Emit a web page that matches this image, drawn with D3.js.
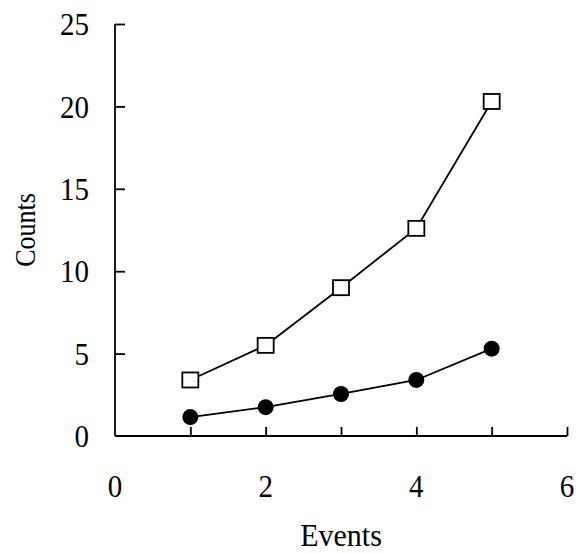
<!DOCTYPE html>
<html>
<head>
<meta charset="utf-8">
<script src="https://cdn.jsdelivr.net/npm/d3@7"></script>
<style>
  body { margin: 0; background: #fff; }
  text { font-family: "Liberation Serif", "Times New Roman", serif; fill: #000; }
</style>
</head>
<body>
<script>
// data
var events = [1, 2, 3, 4, 5];
var openSquares = [3.4, 5.5, 9.0, 12.6, 20.3];
var filledCircles = [1.15, 1.75, 2.55, 3.4, 5.3];
var xTicks = [0, 2, 4, 6];
var yTicks = [0, 5, 10, 15, 20, 25];

var margin = {top: 24, right: 11, bottom: 118, left: 115},
    width = 578 - margin.left - margin.right,
    height = 554 - margin.top - margin.bottom;

var x = d3.scaleLinear().domain([0, 6]).range([0, width]);
var y = d3.scaleLinear().domain([0, 25]).range([height, 0]);

var svg = d3.select("body").append("svg")
    .attr("width", 578)
    .attr("height", 554)
  .append("g")
    .attr("transform", "translate(" + margin.left + "," + margin.top + ")");

// x axis: ticks point up, labels only on even values
var xAxis = svg.append("g")
    .attr("transform", "translate(0," + height + ")")
    .call(d3.axisBottom(x).tickValues([1, 2, 3, 4, 5, 6]).tickSize(-9).tickFormat(""));
xAxis.select(".domain").attr("d", "M0,0H" + width).attr("stroke-width", 1.8);
xAxis.selectAll(".tick line").attr("stroke-width", 1.8);

// the source text looks a bit stretched vertically
svg.append("g").selectAll("text")
    .data(xTicks)
  .enter().append("text")
    .attr("transform", function(d) { return "translate(" + x(d) + "," + (height + 61) + ") scale(1,1.1)"; })
    .attr("text-anchor", "middle")
    .style("font-size", "29px")
    .text(function(d) { return d; });

// y axis: ticks point right
var yAxis = svg.append("g")
    .call(d3.axisLeft(y).tickValues(yTicks.slice(1)).tickSize(-10).tickFormat(""));
yAxis.select(".domain").attr("d", "M0," + height + "V0").attr("stroke-width", 1.8);
yAxis.selectAll(".tick line").attr("stroke-width", 1.8);

svg.append("g").selectAll("text")
    .data(yTicks)
  .enter().append("text")
    .attr("transform", function(d) { return "translate(-26," + y(d) + ") scale(1,1.1)"; })
    .attr("dy", "0.35em")
    .attr("text-anchor", "end")
    .style("font-size", "29px")
    .text(function(d) { return d; });

// axis titles
svg.append("text")
    .attr("transform", "translate(" + x(3) + "," + (height + 110) + ") scale(1,1.05)")
    .attr("text-anchor", "middle")
    .style("font-size", "30px")
    .text("Events");

svg.append("text")
    .attr("transform", "translate(-80," + (height / 2) + ") rotate(-90) scale(1,1.15)")
    .attr("text-anchor", "middle")
    .style("font-size", "26px")
    .text("Counts");

var line = d3.line()
    .x(function(d) { return x(d[0]); })
    .y(function(d) { return y(d[1]); });

var sq = d3.zip(events, openSquares);
var ci = d3.zip(events, filledCircles);

svg.append("path").datum(sq)
    .attr("fill", "none").attr("stroke", "#000").attr("stroke-width", 1.8)
    .attr("d", line);
svg.append("path").datum(ci)
    .attr("fill", "none").attr("stroke", "#000").attr("stroke-width", 1.8)
    .attr("d", line);

svg.selectAll(".sq").data(sq)
  .enter().append("rect")
    .attr("class", "sq")
    .attr("x", function(d) { return x(d[0]) - 8; })
    .attr("y", function(d) { return y(d[1]) - 7.5; })
    .attr("width", 16).attr("height", 15)
    .attr("fill", "#fff").attr("stroke", "#000").attr("stroke-width", 1.8);

svg.selectAll(".ci").data(ci)
  .enter().append("circle")
    .attr("class", "ci")
    .attr("cx", function(d) { return x(d[0]); })
    .attr("cy", function(d) { return y(d[1]); })
    .attr("r", 8)
    .attr("fill", "#000");
</script>
</body>
</html>
